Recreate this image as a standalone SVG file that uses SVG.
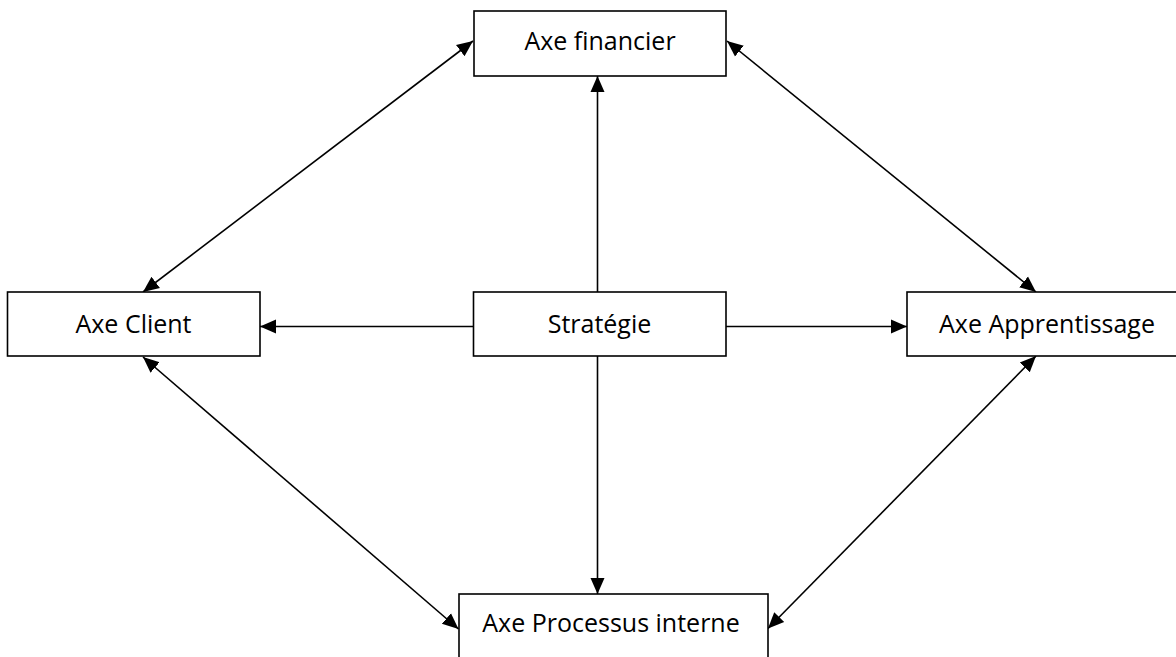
<svg xmlns="http://www.w3.org/2000/svg" width="1176" height="657" viewBox="0 0 1176 657">
<style>
.box{fill:#fff;stroke:#000;stroke-width:1.6}
.lbl{font-family:"Open Sans","Liberation Sans",sans-serif;font-size:25px;fill:#000;text-anchor:middle}
.c{stroke:#000;stroke-width:1.6;fill:none}
.one{marker-end:url(#ah)}
.two{marker-start:url(#ah);marker-end:url(#ah)}
</style>
<defs>
<marker id="ah" markerUnits="userSpaceOnUse" markerWidth="17" markerHeight="17" viewBox="0 0 17 17" refX="16" refY="8.5" orient="auto-start-reverse">
<path d="M0,1.5 L16,8.5 L0,15.5 Z" fill="#000"/>
</marker>
</defs>
<rect width="1176" height="657" fill="#fff"/>
<g id="connectors">
<line class="c one" x1="597.5" y1="292" x2="597.5" y2="76"/>
<line class="c one" x1="597.5" y1="356" x2="597.5" y2="594"/>
<line class="c one" x1="473" y1="326.5" x2="260" y2="326.5"/>
<line class="c one" x1="726" y1="326.5" x2="907" y2="326.5"/>
<line class="c two" x1="143" y1="292" x2="473" y2="41"/>
<line class="c two" x1="727" y1="41" x2="1036" y2="292"/>
<line class="c two" x1="143" y1="357" x2="458.5" y2="629"/>
<line class="c two" x1="1036" y1="356" x2="768" y2="628.5"/>
</g>
<g id="financier">
<rect class="box" x="474" y="11" width="252" height="65"/>
<text class="lbl" x="600" y="49.5">Axe financier</text>
</g>
<g id="client">
<rect class="box" x="7.5" y="292" width="252.5" height="64"/>
<text class="lbl" x="133.5" y="332.5">Axe Client</text>
</g>
<g id="strategie">
<rect class="box" x="473.5" y="292" width="252.5" height="64"/>
<text class="lbl" x="599.5" y="332.5">Stratégie</text>
</g>
<g id="apprentissage">
<rect class="box" x="907" y="292" width="280" height="64"/>
<text class="lbl" x="1047" y="332.5">Axe Apprentissage</text>
</g>
<g id="processus">
<rect class="box" x="459" y="594" width="309" height="80"/>
<text class="lbl" x="611" y="632">Axe Processus interne</text>
</g>
</svg>
